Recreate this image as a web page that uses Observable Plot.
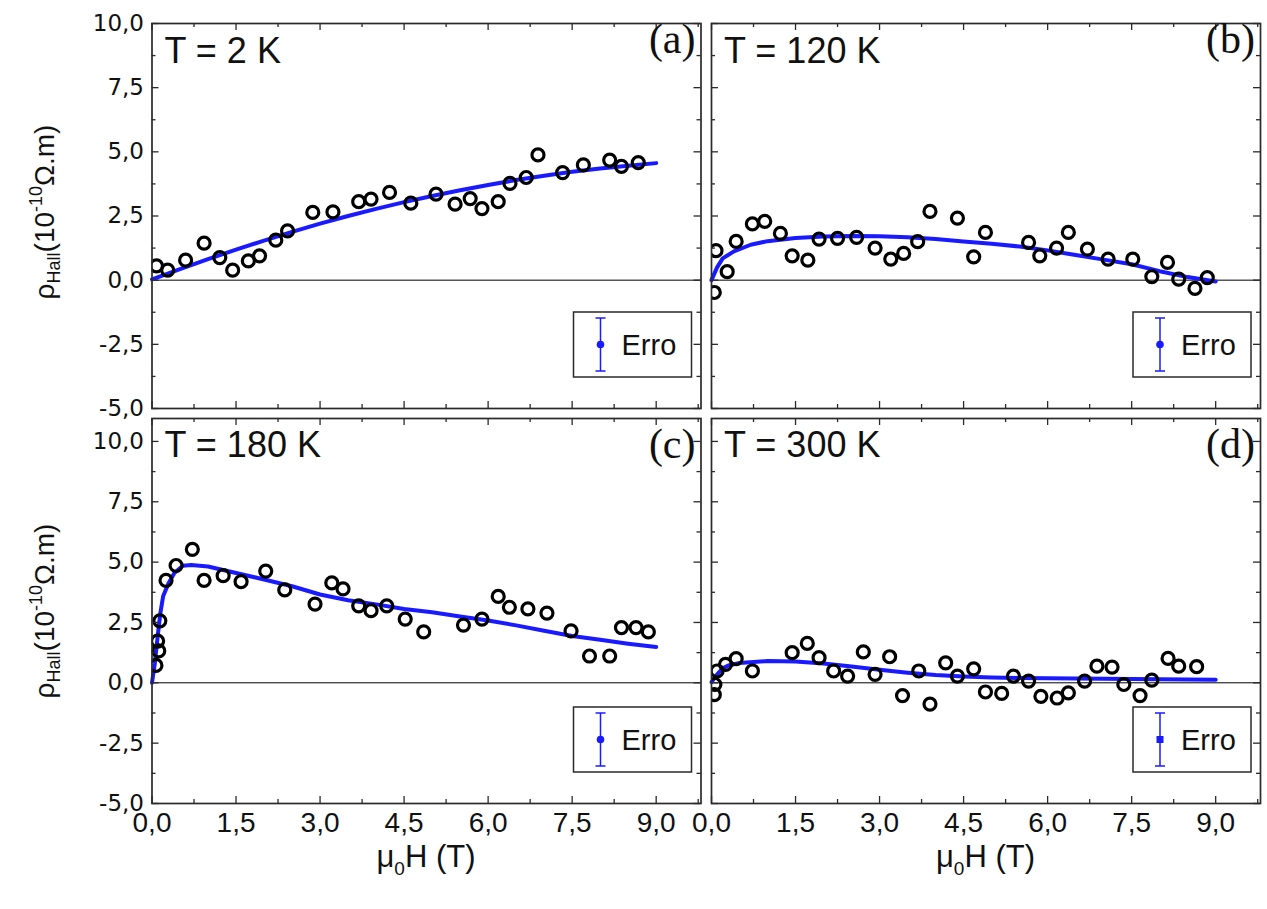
<!DOCTYPE html>
<html>
<head>
<meta charset="utf-8">
<script src="https://cdn.jsdelivr.net/npm/d3@7"></script>
<script src="https://cdn.jsdelivr.net/npm/@observablehq/plot@0.6"></script>
<style>
  html, body { margin: 0; padding: 0; background: #fff; }
  #root { position: relative; width: 1267px; height: 909px; overflow: hidden; background: #fff; }
  #root > svg { position: absolute; left: 0; top: 0; }
</style>
</head>
<body>
<div id="root"></div>
<script>
// ---------- data ----------
// x tick values / labels
const xMajorTicks = [0, 1.5, 3, 4.5, 6, 7.5, 9];
const xMinorTicks = [0.75, 2.25, 3.75, 5.25, 6.75, 8.25, 9.75];
const yMajorTicks = [-5, -2.5, 0, 2.5, 5, 7.5, 10];
const yMinorTicks = [-3.75, -1.25, 1.25, 3.75, 6.25, 8.75];

// (a) T = 2 K
const fieldA = [0.08,0.28,0.60,0.93,1.21,1.44,1.72,1.92,2.21,2.42,2.87,3.23,3.69,3.91,4.24,4.62,5.07,5.41,5.68,5.89,6.18,6.39,6.68,6.89,7.33,7.70,8.17,8.38,8.68];
const rhoA   = [0.56,0.39,0.78,1.44,0.88,0.39,0.75,0.95,1.56,1.92,2.64,2.66,3.06,3.16,3.42,3.00,3.35,2.96,3.18,2.79,3.06,3.77,4.00,4.88,4.19,4.49,4.68,4.43,4.58];
const fitFieldA = [0,0.5,1,1.5,2,2.5,3,3.5,4,4.5,5,5.5,6,6.5,7,7.5,8,8.5,9];
const fitRhoA   = [0.03,0.43,0.82,1.19,1.54,1.88,2.20,2.50,2.78,3.04,3.28,3.50,3.71,3.90,4.07,4.22,4.35,4.46,4.56];

// (b) T = 120 K
const fieldB = [0.05,0.08,0.28,0.44,0.73,0.95,1.23,1.44,1.72,1.92,2.25,2.59,2.92,3.20,3.43,3.68,3.90,4.39,4.68,4.89,5.66,5.86,6.16,6.37,6.71,7.08,7.52,7.86,8.14,8.34,8.63,8.85];
const rhoB   = [-0.48,1.15,0.33,1.51,2.19,2.29,1.82,0.95,0.78,1.60,1.63,1.67,1.25,0.82,1.04,1.50,2.68,2.42,0.91,1.86,1.47,0.95,1.25,1.86,1.21,0.82,0.82,0.14,0.69,0.04,-0.32,0.10];
const fitFieldB = [0,0.1,0.2,0.4,0.7,1,1.5,2,2.5,3,3.5,4,4.5,5,5.5,6,6.5,7,7.5,8,8.5,9];
const fitRhoB   = [0,0.50,0.85,1.12,1.38,1.52,1.64,1.70,1.72,1.71,1.67,1.60,1.51,1.42,1.31,1.16,0.98,0.80,0.62,0.35,0.12,-0.05];

// (c) T = 180 K
const fieldC = [0.07,0.12,0.10,0.14,0.25,0.43,0.72,0.93,1.27,1.59,2.03,2.37,2.91,3.21,3.41,3.69,3.91,4.19,4.52,4.85,5.56,5.89,6.18,6.38,6.71,7.05,7.48,7.81,8.17,8.38,8.64,8.86];
const rhoC   = [0.72,1.32,1.73,2.57,4.24,4.86,5.53,4.24,4.44,4.19,4.63,3.85,3.26,4.14,3.89,3.19,2.99,3.19,2.64,2.11,2.39,2.64,3.58,3.13,3.06,2.89,2.15,1.11,1.11,2.29,2.29,2.11];
const fitFieldC = [0,0.05,0.1,0.15,0.2,0.3,0.4,0.55,0.7,1,1.5,2,2.5,3,3.5,4,4.5,5,5.5,6,6.5,7,7.5,8,8.5,9];
const fitRhoC   = [0,0.8,1.9,2.9,3.6,4.15,4.55,4.85,4.88,4.82,4.55,4.28,4.00,3.66,3.42,3.25,3.06,2.92,2.75,2.58,2.38,2.16,1.94,1.78,1.62,1.48];

// (d) T = 300 K
const fieldD = [0.05,0.06,0.10,0.25,0.44,0.73,1.44,1.71,1.92,2.18,2.43,2.71,2.92,3.18,3.41,3.70,3.90,4.18,4.39,4.68,4.89,5.18,5.39,5.66,5.88,6.17,6.37,6.66,6.88,7.15,7.36,7.65,7.86,8.15,8.34,8.66];
const rhoD   = [-0.49,-0.07,0.49,0.76,1.00,0.49,1.25,1.63,1.04,0.49,0.28,1.28,0.35,1.08,-0.53,0.49,-0.88,0.83,0.28,0.58,-0.38,-0.44,0.28,0.07,-0.56,-0.63,-0.42,0.07,0.69,0.65,-0.07,-0.53,0.11,1.01,0.69,0.67];
const fitFieldD = [0,0.1,0.2,0.3,0.5,1,1.5,2,2.5,3,3.5,4,4.5,5,5.5,6,6.5,7,7.5,8,8.5,9];
const fitRhoD   = [0.03,0.35,0.60,0.72,0.82,0.90,0.88,0.80,0.68,0.54,0.42,0.32,0.26,0.22,0.20,0.19,0.18,0.17,0.16,0.15,0.14,0.13];

const titles = ["T = 2 K", "T = 120 K", "T = 180 K", "T = 300 K"];
const tags = ["(a)", "(b)", "(c)", "(d)"];
const legendLabel = "Erro";
const xLabelMain = "H (T)";
// ---------------------------------------------------

const W = 1267, H = 909;
const fmt = d => d.toFixed(1).replace(".", ",");
const zip = (xs, ys) => xs.map((x, i) => ({x, y: ys[i]}));

const panels = [
  {pts: zip(fieldA, rhoA), fit: zip(fitFieldA, fitRhoA), left: 151.5, right: 700.5, top: 23,  bottom: 408, yDom: [-5, 10],    showX: false, showY: true,  legendMarker: "circle"},
  {pts: zip(fieldB, rhoB), fit: zip(fitFieldB, fitRhoB), left: 711,   right: 1260,  top: 23,  bottom: 408, yDom: [-5, 10],    showX: false, showY: false, legendMarker: "circle"},
  {pts: zip(fieldC, rhoC), fit: zip(fitFieldC, fitRhoC), left: 151.5, right: 700.5, top: 418, bottom: 803, yDom: [-5, 10.95], showX: true,  showY: true,  legendMarker: "circle"},
  {pts: zip(fieldD, rhoD), fit: zip(fitFieldD, fitRhoD), left: 711,   right: 1260,  top: 418, bottom: 803, yDom: [-5, 10.95], showX: true,  showY: false, legendMarker: "square"}
];

const root = document.getElementById("root");
const frameColor = "#2a2a2a";
const blue = "#1a1aff";

panels.forEach((p, i) => {
  const pw = p.right - p.left, ph = p.bottom - p.top;
  const majorLen = 7, minorLen = 4;
  const marks = [
    Plot.ruleY([0], {stroke: "#000", strokeWidth: 1}),
    Plot.line(p.fit, {x: "x", y: "y", stroke: blue, strokeWidth: 4, curve: "linear"}),
    Plot.dot(p.pts, {x: "x", y: "y", r: 6, stroke: "#000", strokeWidth: 3.2, fill: "none", clip: "frame"}),
    // inward ticks on all four sides
    Plot.ruleX(xMajorTicks, {x: d => d, insetTop: ph - majorLen, stroke: frameColor, strokeWidth: 1.3}),
    Plot.ruleX(xMajorTicks, {x: d => d, insetBottom: ph - majorLen, stroke: frameColor, strokeWidth: 1.3}),
    Plot.ruleX(xMinorTicks, {x: d => d, insetTop: ph - minorLen, stroke: frameColor, strokeWidth: 1.3}),
    Plot.ruleX(xMinorTicks, {x: d => d, insetBottom: ph - minorLen, stroke: frameColor, strokeWidth: 1.3}),
    Plot.ruleY(yMajorTicks, {y: d => d, insetRight: pw - majorLen, stroke: frameColor, strokeWidth: 1.3}),
    Plot.ruleY(yMajorTicks, {y: d => d, insetLeft: pw - majorLen, stroke: frameColor, strokeWidth: 1.3}),
    Plot.ruleY(yMinorTicks, {y: d => d, insetRight: pw - minorLen, stroke: frameColor, strokeWidth: 1.3}),
    Plot.ruleY(yMinorTicks, {y: d => d, insetLeft: pw - minorLen, stroke: frameColor, strokeWidth: 1.3}),
    Plot.frame({stroke: frameColor, strokeWidth: 1.7})
  ];
  if (p.showX) {
    marks.push(Plot.text(xMajorTicks, {x: d => d, frameAnchor: "bottom", dy: 20, text: fmt,
      fontSize: 28, fontFamily: "Liberation Sans, Arial, sans-serif", lineAnchor: "middle", fill: "#111"}));
  }
  if (p.showY) {
    marks.push(Plot.text(yMajorTicks, {y: d => d, frameAnchor: "left", dx: -8, text: fmt, textAnchor: "end",
      fontSize: 23, fontFamily: "DejaVu Sans, Verdana, sans-serif", lineAnchor: "middle", fill: "#111"}));
  }
  const svg = Plot.plot({
    width: W, height: H,
    marginLeft: p.left, marginRight: W - p.right, marginTop: p.top, marginBottom: H - p.bottom,
    x: {domain: [0, 9.8], axis: null},
    y: {domain: p.yDom, axis: null},
    style: {background: "transparent", overflow: "visible"},
    marks
  });
  root.appendChild(svg);
});

// ---------- annotations overlay (titles, tags, legends, axis labels) ----------
const NS = "http://www.w3.org/2000/svg";
const ov = d3.select(root).append("svg").attr("width", W).attr("height", H).attr("xmlns", NS);

panels.forEach((p, i) => {
  const topRow = i < 2;
  ov.append("text").attr("x", p.left + 13).attr("y", topRow ? p.top + 40 : p.top + 39)
    .attr("font-family", "Liberation Sans, Arial, sans-serif").attr("font-size", 36).attr("fill", "#111")
    .text(titles[i]);
  ov.append("text").attr("x", p.right - 5).attr("y", topRow ? p.top + 30 : p.top + 40)
    .attr("text-anchor", "end")
    .attr("font-family", "Liberation Serif, Times New Roman, serif").attr("font-size", 42).attr("fill", "#111")
    .text(tags[i]);

  // legend box
  const bw = 118, bh = 65;
  const bx = p.right - 9 - bw, by = p.bottom - 31 - bh;
  const g = ov.append("g").attr("transform", `translate(${bx},${by})`);
  g.append("rect").attr("width", bw).attr("height", bh).attr("fill", "#fff").attr("stroke", frameColor).attr("stroke-width", 1.5);
  const ex = 27, ey1 = 6, ey2 = bh - 6, ecy = bh / 2;
  g.append("line").attr("x1", ex).attr("x2", ex).attr("y1", ey1).attr("y2", ey2).attr("stroke", blue).attr("stroke-width", 1.5);
  g.append("line").attr("x1", ex - 5).attr("x2", ex + 5).attr("y1", ey1).attr("y2", ey1).attr("stroke", blue).attr("stroke-width", 1.5);
  g.append("line").attr("x1", ex - 5).attr("x2", ex + 5).attr("y1", ey2).attr("y2", ey2).attr("stroke", blue).attr("stroke-width", 1.5);
  if (p.legendMarker === "square") {
    g.append("rect").attr("x", ex - 3.5).attr("y", ecy - 3.5).attr("width", 7).attr("height", 7).attr("fill", blue);
  } else {
    g.append("circle").attr("cx", ex).attr("cy", ecy).attr("r", 3.8).attr("fill", blue);
  }
  g.append("text").attr("x", 48).attr("y", ecy + 10).attr("font-family", "Liberation Sans, Arial, sans-serif")
    .attr("font-size", 29).attr("fill", "#111").text(legendLabel);
});

// y-axis labels
[212, 611].forEach(cy => {
  const t = ov.append("text").attr("transform", `translate(54,${cy}) rotate(-90)`).attr("text-anchor", "middle")
    .attr("font-family", "Liberation Sans, Arial, sans-serif").attr("font-size", 28).attr("fill", "#111");
  t.append("tspan").text("\u03C1");
  t.append("tspan").attr("font-size", 18).attr("dy", 6).text("Hall");
  t.append("tspan").attr("dy", -6).text("(10");
  t.append("tspan").attr("font-size", 18).attr("dy", -12).text("-10");
  t.append("tspan").attr("dy", 12).text("\u03A9.m)");
});

// x-axis labels
[426, 985.5].forEach(cx => {
  const t = ov.append("text").attr("x", cx).attr("y", 867).attr("text-anchor", "middle")
    .attr("font-family", "Liberation Sans, Arial, sans-serif").attr("font-size", 31).attr("fill", "#111");
  t.append("tspan").text("\u03BC");
  t.append("tspan").attr("font-size", 19).attr("dy", 8).text("0");
  t.append("tspan").attr("dy", -8).text(xLabelMain);
});
</script>
</body>
</html>
